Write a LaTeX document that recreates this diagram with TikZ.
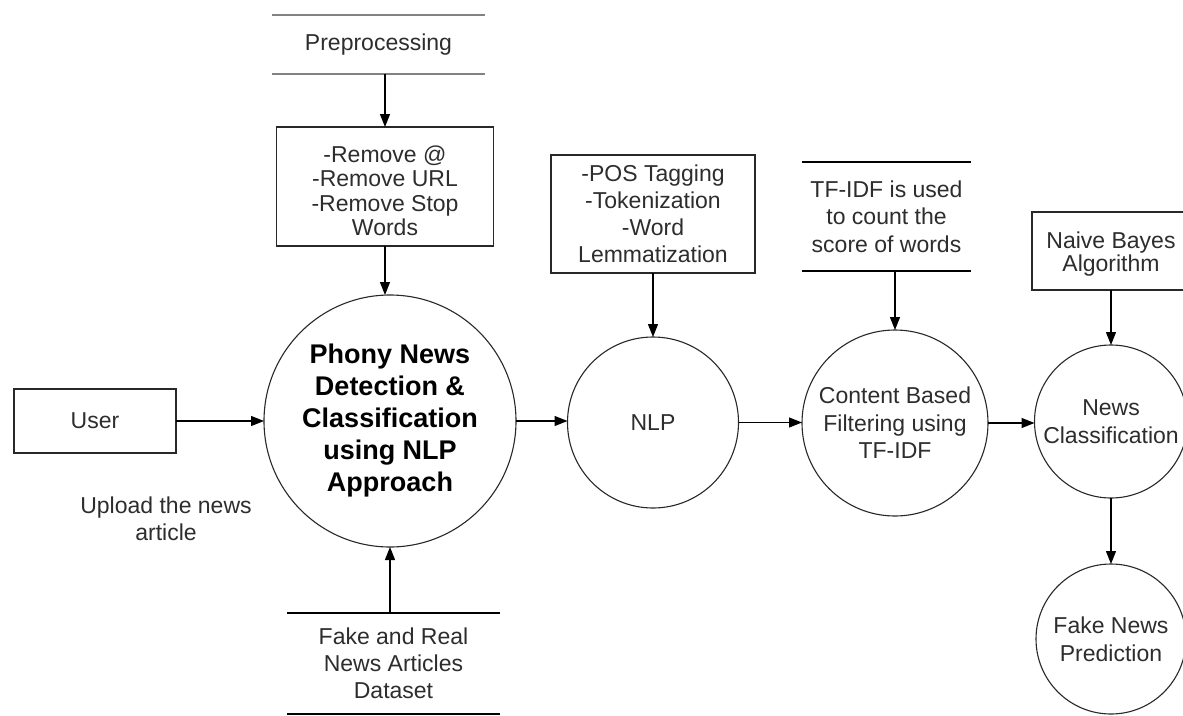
\documentclass[tikz,border=0pt]{standalone}
\usepackage{fontspec}
\setmainfont{Liberation Sans}
\usetikzlibrary{arrows.meta,calc}
\definecolor{ink}{RGB}{40,40,40}
\definecolor{txt}{RGB}{45,45,45}
\definecolor{pregray}{RGB}{130,130,130}
\begin{document}
\begin{tikzpicture}[x=1pt,y=-1pt,
  every node/.style={inner sep=0pt,outer sep=0pt,text=txt,font=\fontsize{23}{27}\selectfont},
  boxnode/.style={draw=ink,line width=1.2pt,rectangle,align=center},
  circnode/.style={draw=ink,line width=1.1pt,circle,align=center},
  store/.style={rectangle,align=center},
  storeline/.style={draw=black,line width=1.3pt},
  arr/.style={draw=black,line width=1.3pt,-{Triangle[length=13pt,width=10pt]}}]
\useasboundingbox[fill=white] (0,0) rectangle (1183,715);

% nodes
\node[boxnode,minimum width=162pt,minimum height=64pt] (user) at (95,421) {User};
\node[circnode,minimum size=252pt,text=black,font=\bfseries\fontsize{27}{32}\selectfont] (main) at (390,421)
  {Phony News\\Detection \&\\Classification\\using NLP\\Approach};
\node[store,minimum width=213pt,minimum height=59pt] (pre) at (378.5,44.5) {Preprocessing};
\node[boxnode,minimum width=217pt,minimum height=119pt] (remove) at (385,186.5) {};
\node[align=center,font=\fontsize{23}{24.5}\selectfont] (removetxt) at (385,191) {-Remove @\\-Remove URL\\-Remove Stop\\Words};
\node[store,minimum width=213pt,minimum height=101pt] (data) at (393.5,663.5)
  {Fake and Real\\News Articles\\Dataset};
\node[align=center] (upload) at (166,519) {Upload the news\\article};

\node[boxnode,minimum width=204pt,minimum height=118pt] (nlpbox) at (653,214)
  {-POS Tagging\\-Tokenization\\-Word\\Lemmatization};
\node[circnode,minimum size=171pt] (nlp) at (653,422.5) {NLP};

\node[store,minimum width=169pt,minimum height=109pt,font=\fontsize{23}{27.5}\selectfont] (tfidf) at (886.5,216.5)
  {TF-IDF is used\\to count the\\score of words};
\node[circnode,minimum size=186pt,font=\fontsize{23}{27.5}\selectfont] (content) at (895,423)
  {Content Based\\Filtering using\\TF-IDF};

\node[boxnode,minimum width=158pt,minimum height=78pt] (nb) at (1111,251) {};
\node[align=center,font=\fontsize{23}{23}\selectfont] (nbtxt) at (1111,254) {Naive Bayes\\Algorithm};
\node[circnode,minimum size=153pt,font=\fontsize{23}{28}\selectfont] (nc) at (1111,421.5)
  {News\\Classification};
\node[circnode,minimum size=150pt,font=\fontsize{23}{28}\selectfont] (fake) at (1111,639)
  {Fake News\\Prediction};

% store lines
\draw[storeline,draw=pregray,line width=2.2pt] (pre.north west) -- (pre.north east);
\draw[storeline,draw=pregray,line width=2.2pt] (pre.south west) -- (pre.south east);
\draw[storeline] (data.north west) -- (data.north east);
\draw[storeline] (data.south west) -- (data.south east);
\draw[storeline] (tfidf.north west) -- (tfidf.north east);
\draw[storeline] (tfidf.south west) -- (tfidf.south east);

% connectors
\draw[arr] (remove.north |- pre.south) -- (remove.north);
\draw[arr] (remove.south) -- (remove.south |- main.north);
\draw[arr] (user.east) -- (main.west);
\draw[arr] (main.south |- data.north) -- (main.south);
\draw[arr] (main.east) -- (main.east -| nlp.west);
\draw[arr] (nlpbox.south) -- (nlp.north);
\draw[arr] (nlp.east) -- (nlp.east -| content.west);
\draw[arr] (content.north |- tfidf.south) -- (content.north);
\draw[arr] (content.east) -- (content.east -| nc.west);
\draw[arr] (nb.south) -- (nc.north);
\draw[arr] (nc.south) -- (fake.north);
\end{tikzpicture}
\end{document}
